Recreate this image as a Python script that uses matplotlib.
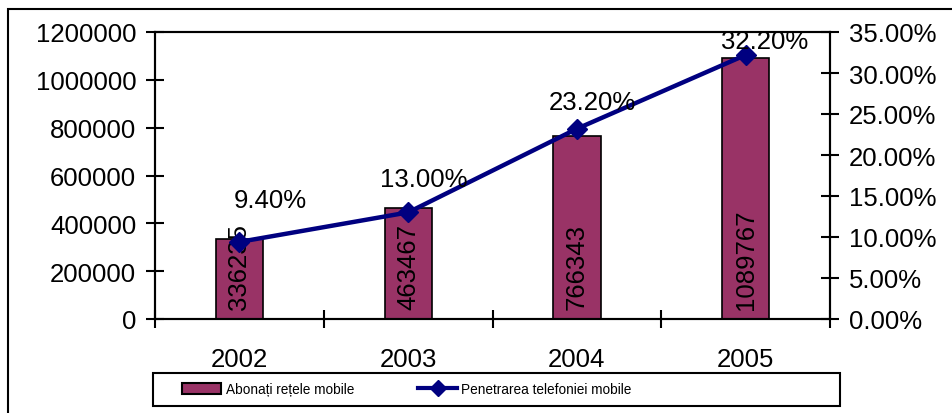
import matplotlib
matplotlib.use("Agg")
import matplotlib.pyplot as plt
from matplotlib.patches import Rectangle
from matplotlib.lines import Line2D
from matplotlib.ticker import FuncFormatter

plt.rcParams['font.family'] = ['Liberation Sans', 'DejaVu Sans']

years = ["2002", "2003", "2004", "2005"]
subscribers = [336235, 463467, 766343, 1089767]
penetration = [9.40, 13.00, 23.20, 32.20]

bar_label = "Abonați rețele mobile"
line_label = "Penetrarea telefoniei mobile"

BAR_COLOR = "#993366"
LINE_COLOR = "#000080"
FS = 18.5

W, H = 952, 414
fig = plt.figure(figsize=(W / 100, H / 100), dpi=100)

# outer chart frame (runs off the right and bottom edges)
fig.patches.append(Rectangle((8 / W, -0.1), 1.2, 1.1 - 10 / H, transform=fig.transFigure,
                             fill=False, edgecolor="black", linewidth=1.5))

ax = fig.add_axes([155 / W, 1 - 320 / H, (830 - 155) / W, (320 - 33) / H])
x = list(range(len(years)))
ax.bar(x, subscribers, width=0.28, color=BAR_COLOR, edgecolor="black", linewidth=1.2)
ax.set_xlim(-0.5, len(years) - 0.5)
ax.set_ylim(0, 1200000)
ax.set_yticks(range(0, 1200001, 200000))
ax.yaxis.set_major_formatter(FuncFormatter(lambda v, p: f"{int(v)}"))

ax.set_xticks([i - 0.5 for i in range(len(years) + 1)])
ax.set_xticklabels([])
ax.set_xticks(x, minor=True)
ax.set_xticklabels(years, minor=True)
ax.tick_params(axis="x", which="minor", length=0, pad=20, labelsize=FS)
ax.tick_params(axis="x", which="major", direction="inout", length=13, width=1.5)
ax.tick_params(axis="y", direction="inout", length=13, width=1.5, pad=7, labelsize=FS)

for s in ax.spines.values():
    s.set_linewidth(1.5)

for xi, v in zip(x, subscribers):
    ax.annotate(str(v), (xi, 0), xytext=(0, 10), textcoords="offset pixels",
                rotation=90, ha="center", va="bottom", fontsize=FS)

ax2 = ax.twinx()
ax2.plot(x, [p / 100 for p in penetration], color=LINE_COLOR, linewidth=3.2,
         marker="D", markersize=10)
ax2.set_ylim(0, 0.35)
ax2.set_yticks([i * 0.05 for i in range(8)])
ax2.yaxis.set_major_formatter(FuncFormatter(lambda v, p: f"{v * 100:.2f}%"))
ax2.tick_params(axis="y", direction="inout", length=13, width=1.5, pad=7, labelsize=FS)
for s in ax2.spines.values():
    s.set_linewidth(1.5)

label_offsets = [(31, 42), (16, 33), (16, 27), (19, 14)]
for xi, p, off in zip(x, penetration, label_offsets):
    ax2.annotate(f"{p:.2f}%", (xi, p / 100), xytext=off, textcoords="offset pixels",
                 ha="center", va="center", fontsize=FS)

# legend box below the plot
fig.patches.append(Rectangle((153 / W, 1 - 407 / H), (840 - 153) / W, 33 / H,
                             transform=fig.transFigure, fill=False,
                             edgecolor="black", linewidth=1.5))
handles = [Rectangle((0, 0), 1, 1, facecolor=BAR_COLOR, edgecolor="black", linewidth=1.5),
           Line2D([], [], color=LINE_COLOR, linewidth=3, marker="D", markersize=8)]
fig.legend(handles, [bar_label, line_label], loc="center left",
           bbox_to_anchor=(182 / W, 1 - 390 / H), ncol=2, frameon=False,
           fontsize=9.8, borderpad=0, borderaxespad=0, handlelength=2.9,
           handleheight=0.9, handletextpad=0.3, columnspacing=4.7)

fig.savefig("out.png", dpi=100)
